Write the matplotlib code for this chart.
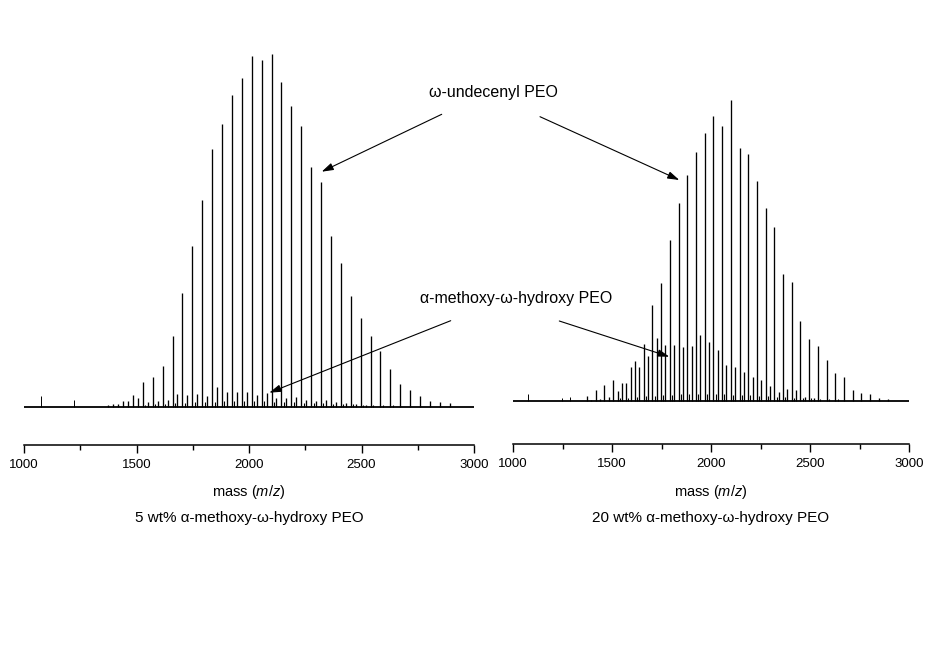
import matplotlib
matplotlib.use("Agg")
import matplotlib.pyplot as plt
from matplotlib.ticker import MultipleLocator

plt.rcParams['font.family'] = ['Liberation Sans', 'DejaVu Sans']
plt.rcParams['mathtext.fontset'] = 'custom'
plt.rcParams['mathtext.rm'] = 'Liberation Sans'
plt.rcParams['mathtext.it'] = 'Liberation Sans:italic'

# omega-undecenyl PEO series (m/z, peak heights)
main_mz = [1396, 1440, 1484, 1528, 1572, 1616, 1660, 1704, 1748, 1792, 1836, 1880,
           1924, 1968, 2012, 2056, 2100, 2144, 2188, 2232, 2276, 2320, 2364, 2408,
           2452, 2496, 2540, 2584, 2628, 2672, 2716, 2760, 2804, 2848, 2892]
left_main = [3, 5.6, 12, 24.6, 29.6, 40.6, 70.6, 114, 160.6, 207, 258, 283,
             312, 329, 350.6, 346.6, 353, 325, 300.6, 280.6, 240, 225.3, 170.6, 144,
             110.6, 89, 71.3, 55.6, 38.3, 23.3, 16.6, 10.6, 5.6, 4.6, 4]
right_main = [1, 2, 4, 10, 17.7, 40, 57, 95.7, 118, 161.4, 198, 225.7,
              249, 268, 284.7, 275, 301.4, 252.7, 246.7, 219.7, 192.7, 173.7, 126.7, 118.7,
              79.7, 62.4, 55, 40.7, 28.4, 24, 10.7, 8, 7.4, 3.3, 2]

# alpha-methoxy-omega-hydroxy PEO series
sec_mz = [1374, 1418, 1462, 1506, 1550, 1594, 1638, 1682, 1726, 1770, 1814, 1858,
          1902, 1946, 1990, 2034, 2078, 2122, 2166, 2210, 2254, 2298, 2342, 2386,
          2430, 2474, 2518]
left_sec = [2, 3, 6, 8.7, 5, 6, 7, 13, 12, 13, 11, 20,
            15, 15, 15, 12, 14, 9, 9, 10, 6.7, 5.7, 6.7, 4.7,
            4, 3, 2]
right_sec = [5, 10.7, 16, 20.7, 18.3, 34, 34, 44.7, 63, 55.7, 56.4, 54,
             54.7, 65.7, 59, 50.7, 36.4, 34, 29.4, 24, 21.4, 14.7, 9, 11.7,
             10.7, 4, 3.3]

# minor peaks that thicken the baseline
minor_mz = [1539, 1583, 1627, 1671, 1715, 1759, 1803, 1847, 1891, 1935, 1979, 2023,
            2067, 2111, 2155, 2199, 2243, 2287, 2331, 2375, 2419, 2463, 2507, 2551,
            2595, 2639]
left_minor = [2, 3, 3, 4, 4, 5, 5, 5, 6, 6, 6, 6,
              6, 5, 5, 5, 4, 4, 4, 3, 3, 3, 2, 2,
              2, 2]
right_minor = [3, 3, 4, 5, 5, 6, 6, 7, 7, 7, 7, 7,
               7, 6, 6, 6, 5, 5, 4, 4, 3, 3, 3, 2,
               2, 2]

# isolated small peaks
left_extra_mz = [1074, 1222]
left_extra = [11, 7]
right_extra_mz = [1074, 1246, 1290]
right_extra = [6.7, 2.7, 4]

subtitles = ["5 wt% \u03b1-methoxy-\u03c9-hydroxy PEO",
             "20 wt% \u03b1-methoxy-\u03c9-hydroxy PEO"]

W, H = 939, 661
fig = plt.figure(figsize=(W / 100, H / 100), dpi=100)

def px_axes(x0, x1, y_spine, y_top):
    return fig.add_axes([x0 / W, (H - y_spine) / H, (x1 - x0) / W, (y_spine - y_top) / H])

ax1 = px_axes(24, 474, 445, 40)
ax2 = px_axes(513, 909, 444, 40)

panels = [
    (ax1, left_main, left_sec, left_minor, left_extra_mz, left_extra, 445 - 407, 445 - 40),
    (ax2, right_main, right_sec, right_minor, right_extra_mz, right_extra, 444 - 401, 444 - 40),
]

for ax, mh, sh, nh, emz, eh, off, tot in panels:
    ax.vlines(main_mz, 0, mh, color='k', lw=0.95)
    ax.vlines(sec_mz, 0, sh, color='k', lw=0.95)
    ax.vlines(minor_mz, 0, nh, color='k', lw=0.8)
    ax.vlines(emz, 0, eh, color='k', lw=0.7)
    ax.plot([1000, 3000], [0, 0], color='k', lw=1.3)
    ax.set_xlim(1000, 3000)
    ax.set_ylim(-off, tot - off)
    for s in ['left', 'right', 'top']:
        ax.spines[s].set_visible(False)
    ax.spines['bottom'].set_linewidth(1.1)
    ax.set_yticks([])
    ax.xaxis.set_major_locator(MultipleLocator(500))
    ax.xaxis.set_minor_locator(MultipleLocator(250))
    ax.tick_params(axis='x', which='major', direction='out', length=6, width=1.0,
                   labelsize=9.5, pad=4)
    ax.tick_params(axis='x', which='minor', direction='out', length=3.5, width=1.0)
    ax.set_facecolor('none')

# axis titles and subtitles
for cx, sub in zip([249, 711], subtitles):
    fig.text(cx / W, (H - 492) / H, "mass ($m/z$)", ha='center', va='center', fontsize=10.5)
    fig.text(cx / W, (H - 518) / H, sub, ha='center', va='center', fontsize=11)

# annotations
fig.text(493 / W, (H - 92) / H, "\u03c9-undecenyl PEO", ha='center', va='center', fontsize=11.5)
fig.text(516 / W, (H - 298) / H, "\u03b1-methoxy-\u03c9-hydroxy PEO", ha='center', va='center',
         fontsize=11.5)

arrows = [((441.7, 114.3), (321.7, 171.7)),
          ((540.0, 116.7), (679.3, 180.0)),
          ((450.7, 320.7), (269.3, 392.7)),
          ((559.3, 321.0), (669.3, 356.7))]
for (tx, ty), (hx, hy) in arrows:
    fig.add_artist(matplotlib.patches.FancyArrowPatch(
        (tx, H - ty), (hx, H - hy), transform=None,
        arrowstyle='-|>,head_length=7,head_width=2.2', mutation_scale=1,
        color='k', lw=0.8, shrinkA=0, shrinkB=0))

fig.savefig("out.png", dpi=100, facecolor='white')
